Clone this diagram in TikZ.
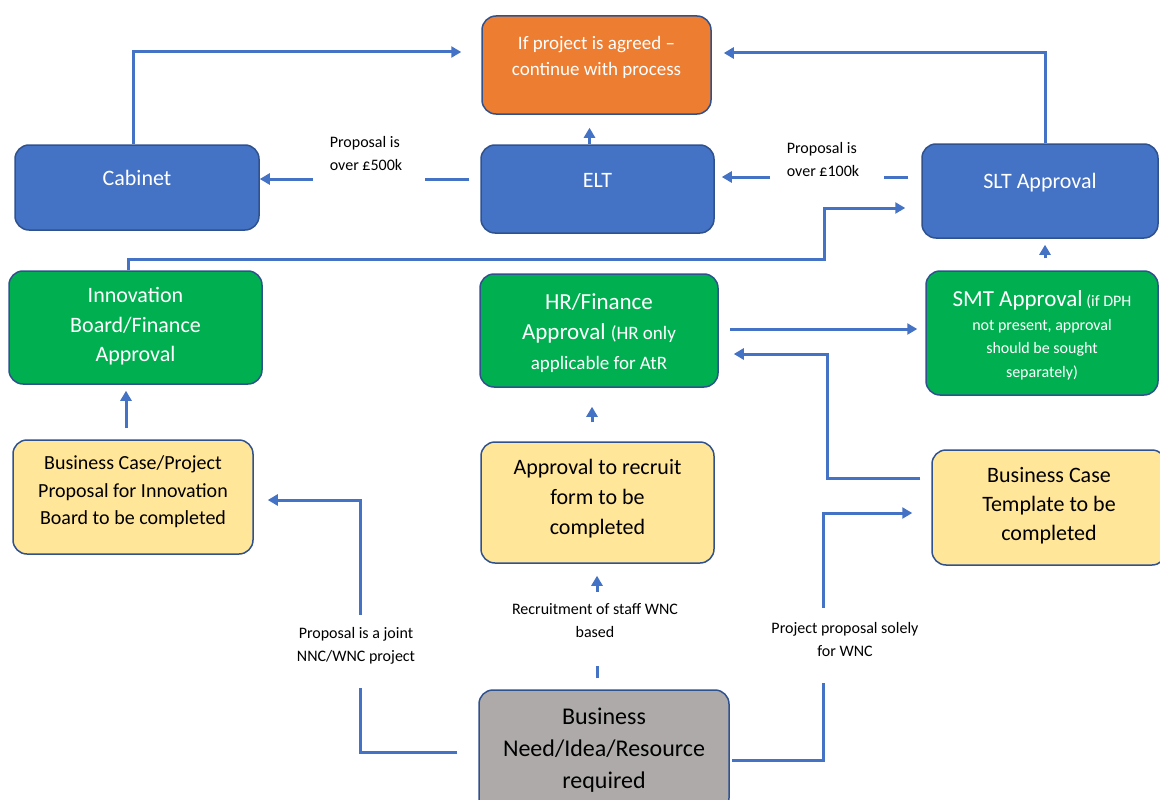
\documentclass[tikz,border=0pt]{standalone}
\usepackage{fontspec}
\setmainfont{Carlito}
\usetikzlibrary{arrows.meta}
\definecolor{cblue}{HTML}{4472C4}
\definecolor{cborder}{HTML}{2F528F}
\definecolor{corange}{HTML}{ED7D31}
\definecolor{cgreen}{HTML}{00B050}
\definecolor{cyellow}{HTML}{FFE699}
\definecolor{cgray}{HTML}{AEAAAA}
\newcommand{\fs}[2]{\fontsize{#1}{#2}\selectfont}
\newcommand{\tx}[2]{\raisebox{#1}[\height][\depth]{\begin{tabular}{@{}c@{}}#2\end{tabular}}}
\begin{document}
\begin{tikzpicture}[x=1pt,y=-1pt,
  box/.style={draw=cborder, line width=1.5pt, rounded corners=14pt, inner sep=0pt},
  bluebox/.style={box, fill=cblue, text=white, font={\fs{22}{27}}},
  orangebox/.style={box, fill=corange, text=white, font={\fs{19}{26}}},
  greenbox/.style={box, fill=cgreen, text=white},
  yellowbox/.style={box, fill=cyellow, text=black},
  graybox/.style={box, fill=cgray, text=black},
  conn/.style={draw=cblue, line width=3pt, -{Triangle[length=10pt,width=11pt]}},
  gap/.style={fill=white, inner sep=0pt, minimum width=#1, minimum height=9pt},
  vgap/.style={fill=white, inner sep=0pt, minimum height=#1, minimum width=9pt},
  lbl/.style={font={\fs{16}{23}}, inner sep=0pt, text=black}
]
\useasboundingbox (0,0) rectangle (1160,800);
\clip (0,0) rectangle (1160,800);

% boxes
\node[orangebox, minimum width=229pt, minimum height=98pt] (orng) at (596.5,65) {\tx{8pt}{If project is agreed --\\continue with process}};
\node[bluebox, minimum width=244pt, minimum height=85pt] (cab) at (137,187.5) {\tx{7pt}{Cabinet}};
\node[bluebox, minimum width=233pt, minimum height=88pt] (elt) at (597.5,189) {\tx{7pt}{ELT}};
\node[bluebox, minimum width=236pt, minimum height=94pt] (slt) at (1040,191) {\tx{8pt}{SLT Approval}};
\node[greenbox, font={\fs{22}{29.5}}, minimum width=253pt, minimum height=113pt] (inn) at (135.5,327.5) {\tx{1pt}{Innovation\\Board/Finance\\Approval}};
\node[greenbox, font={\fs{23}{30}}, minimum width=238pt, minimum height=113pt] (hr) at (599,330.5) {\tx{-2.5pt}{HR/Finance\\Approval {\fs{19}{19}(HR only}\\{\fs{19}{19}applicable for AtR}}};
\node[greenbox, font={\fs{16}{23.5}}, minimum width=232pt, minimum height=124pt] (smt) at (1042,333) {\tx{-4.5pt}{{\fs{23}{23}SMT Approval} (if DPH\\not present, approval\\should be sought\\separately)}};
\node[yellowbox, font={\fs{20}{27.5}}, minimum width=240pt, minimum height=114pt] (bcp) at (133,497) {\tx{5.5pt}{Business Case/Project\\Proposal for Innovation\\Board to be completed}};
\node[yellowbox, font={\fs{22}{30}}, minimum width=233pt, minimum height=121pt] (atr) at (597.5,502.5) {\tx{4.5pt}{Approval to recruit\\form to be\\completed}};
\node[yellowbox, font={\fs{22}{29}}, minimum width=234pt, minimum height=115pt] (tpl) at (1049,507.5) {\tx{1.5pt}{Business Case\\Template to be\\completed}};
\node[graybox, font={\fs{24}{32}}, minimum width=250pt, minimum height=122pt] (need) at (604,751) {\tx{1pt}{Business\\Need/Idea/Resource\\required}};

% bend points
\coordinate (j1) at (824,259);
\coordinate (j2) at (827,354);
\coordinate (j3) at (360,500);
\coordinate (j4) at (823,513);

% connectors
\draw[conn, shorten >=20pt] ([xshift=-4pt]cab.north) |- ([yshift=13pt]orng.west);
\draw[conn, shorten >=12pt] ([xshift=5pt]slt.north) |- ([yshift=12pt]orng.east);
\draw[conn, shorten >=13pt] ([xshift=-8pt]elt.north) -- ([xshift=-8pt]elt.north |- orng.south);
\draw[conn, shorten <=11pt] ([yshift=10pt]elt.west) -- ([yshift=10pt]elt.west -| cab.east);
\draw[conn, shorten <=13pt, shorten >=7pt] ([yshift=14pt]slt.west) -- ([yshift=14pt]slt.west -| elt.east);
\draw[conn, shorten >=16pt] ([xshift=-7.5pt]inn.north) |- (j1) |- ([yshift=-17pt]slt.west);
\draw[conn, shorten <=11pt, shorten >=6pt] ([xshift=-7pt]bcp.north) -- ([xshift=-7pt]bcp.north |- inn.south);
\draw[conn, shorten <=11pt, shorten >=8pt] ([yshift=1.5pt]hr.east) -- ([yshift=1.5pt]hr.east -| smt.west);
\draw[conn, shorten <=12pt, shorten >=6pt] ([xshift=3pt]smt.north) -- ([xshift=3pt]smt.north |- slt.south);
\draw[conn, shorten <=11pt, shorten >=15pt] ([yshift=29.5pt]tpl.west) -| (j2) -- ([yshift=-23.5pt]hr.east);
\draw[conn, shorten <=19pt, shorten >=19pt] ([xshift=-5.5pt]atr.north) -- ([xshift=-5.5pt]atr.north |- hr.south);
\draw[conn, shorten <=11pt, shorten >=12pt] ([xshift=-7pt]need.north) -- ([xshift=-7pt]need.north |- atr.south);
\draw[conn, shorten <=21pt, shorten >=14pt] ([yshift=-1pt]need.west) -| (j3) -- ([yshift=-3pt]bcp.east);
\draw[conn, shorten <=2pt, shorten >=19pt] ([yshift=-9pt]need.east) -| (j4) -- ([yshift=-5.5pt]tpl.west);

% gaps in connectors
\node[gap=112pt] (g500) at (369,179) {};
\node[gap=114pt] (g100) at (827,177) {};
\node[vgap=73pt] (gjoint) at (360,651.5) {};
\node[vgap=74pt] (grec) at (597,629) {};
\node[vgap=75pt] (gsole) at (823,645.5) {};

% labels
\node[lbl, align=left] (l500) at (366,153.5) {Proposal is\\over £500k};
\node[lbl, align=left] (l100) at (823,159.5) {Proposal is\\over £100k};
\node[lbl, align=center] (ljoint) at (356,645.5) {Proposal is a joint\\NNC/WNC project};
\node[lbl, align=center] (lrec) at (595,621) {Recruitment of staff WNC\\based};
\node[lbl, align=center] (lsole) at (845,639.5) {Project proposal solely\\for WNC};
\end{tikzpicture}
\end{document}
